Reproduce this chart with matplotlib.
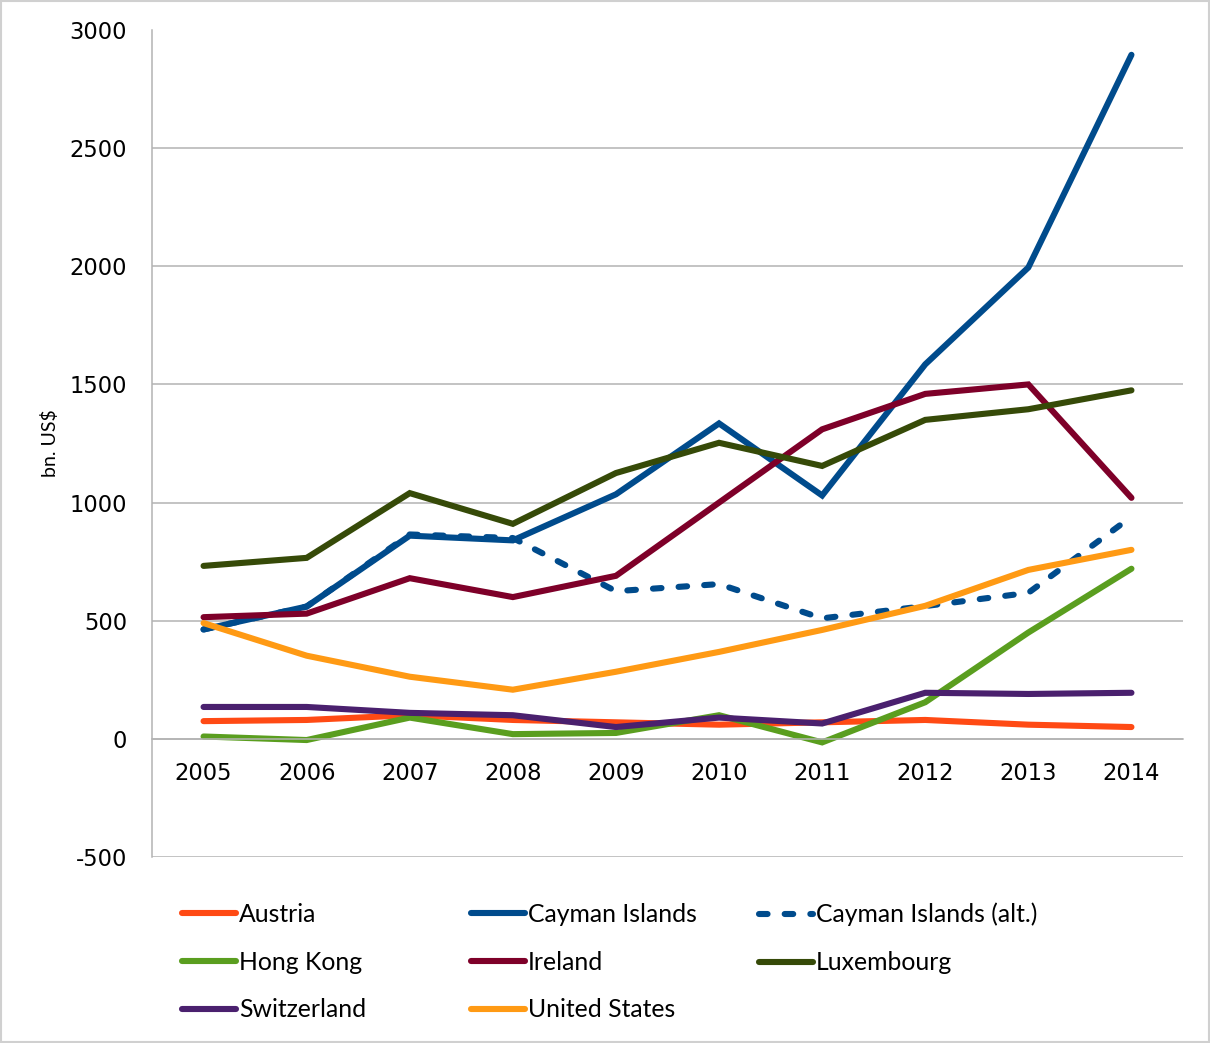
import matplotlib.pyplot as plt
from matplotlib.patches import Rectangle

plt.rcParams['axes.unicode_minus'] = False

years = ['2005', '2006', '2007', '2008', '2009', '2010', '2011', '2012', '2013', '2014']

austria = [75, 80, 100, 80, 70, 60, 70, 80, 60, 50]
cayman = [463, 560, 860, 840, 1035, 1335, 1030, 1585, 1995, 2895]
cayman_alt = [463, 560, 865, 850, 625, 655, 510, 562, 618, 940]
hong_kong = [10, -5, 90, 20, 25, 100, -15, 155, 450, 720]
ireland = [515, 530, 680, 600, 690, 1000, 1310, 1460, 1500, 1020]
luxembourg = [732, 766, 1040, 910, 1125, 1253, 1155, 1350, 1395, 1475]
switzerland = [135, 135, 110, 100, 50, 90, 65, 195, 190, 195]
united_states = [490, 352, 263, 208, 284, 368, 461, 563, 715, 800]

series = [
    ('Austria', austria, '#FF4A14', '-'),
    ('Cayman Islands', cayman, '#004B8C', '-'),
    ('Cayman Islands (alt.)', cayman_alt, '#004B8C', (0, (1.4, 2.8))),
    ('Hong Kong', hong_kong, '#5A9E1F', '-'),
    ('Ireland', ireland, '#7E0029', '-'),
    ('Luxembourg', luxembourg, '#364A08', '-'),
    ('Switzerland', switzerland, '#4A206E', '-'),
    ('United States', united_states, '#FF9A14', '-'),
]

fig = plt.figure(figsize=(12.1, 10.43), dpi=100)
ax = fig.add_axes([152 / 1210, 1 - 857 / 1043, (1183 - 152) / 1210, (857 - 30) / 1043])

x = list(range(len(years)))
handles = {}
for name, vals, color, ls in series:
    ln, = ax.plot(x, vals, color=color, lw=4.4, linestyle=ls,
                  solid_capstyle='round', dash_capstyle='round',
                  solid_joinstyle='miter', label=name)
    handles[name] = ln

# the alt series is drawn underneath the solid Cayman line
handles['Cayman Islands (alt.)'].set_zorder(1.9)

ax.set_xlim(-0.5, len(years) - 0.5)
ax.set_ylim(-500, 3000)
ax.set_yticks(range(-500, 3001, 500))
ax.set_xticks(x)
ax.set_xticklabels(years)

for gy in range(-500, 3000, 500):
    ax.axhline(gy, color='#B3B3B3', lw=1.1, zorder=0.5)

for s in ['top', 'right']:
    ax.spines[s].set_visible(False)
ax.spines['left'].set_color('#B3B3B3')
ax.spines['left'].set_linewidth(1.1)
ax.spines['bottom'].set_position(('data', 0))
ax.spines['bottom'].set_color('#B3B3B3')
ax.spines['bottom'].set_linewidth(1.1)
ax.tick_params(axis='both', length=0, labelsize=16.3, colors='black')
ax.tick_params(axis='y', pad=18)
ax.tick_params(axis='x', pad=17)

fig.text(50 / 1210, 1 - 443 / 1043, 'bn. US$', rotation=90, ha='center', va='center',
         fontsize=14, family='Lato')

# legend in three columns laid out row by row
cols = [
    (['Austria', 'Hong Kong', 'Switzerland'], 172),
    (['Cayman Islands', 'Ireland', 'United States'], 461),
    (['Cayman Islands (alt.)', 'Luxembourg'], 749),
]
for names, px in cols:
    leg = fig.legend([handles[n] for n in names], names,
                     loc='upper left', bbox_to_anchor=(px / 1210, 1 - 893 / 1043),
                     frameon=False, prop={'family': 'Lato', 'size': 17.8},
                     handlelength=2.2, handletextpad=0.1, labelspacing=1.0,
                     borderaxespad=0)

fig.patches.append(Rectangle((0.001, 0.001), 0.998, 0.998, transform=fig.transFigure,
                             fill=False, edgecolor='#D0D0D0', lw=1.5))

fig.savefig('out.png', dpi=100)
